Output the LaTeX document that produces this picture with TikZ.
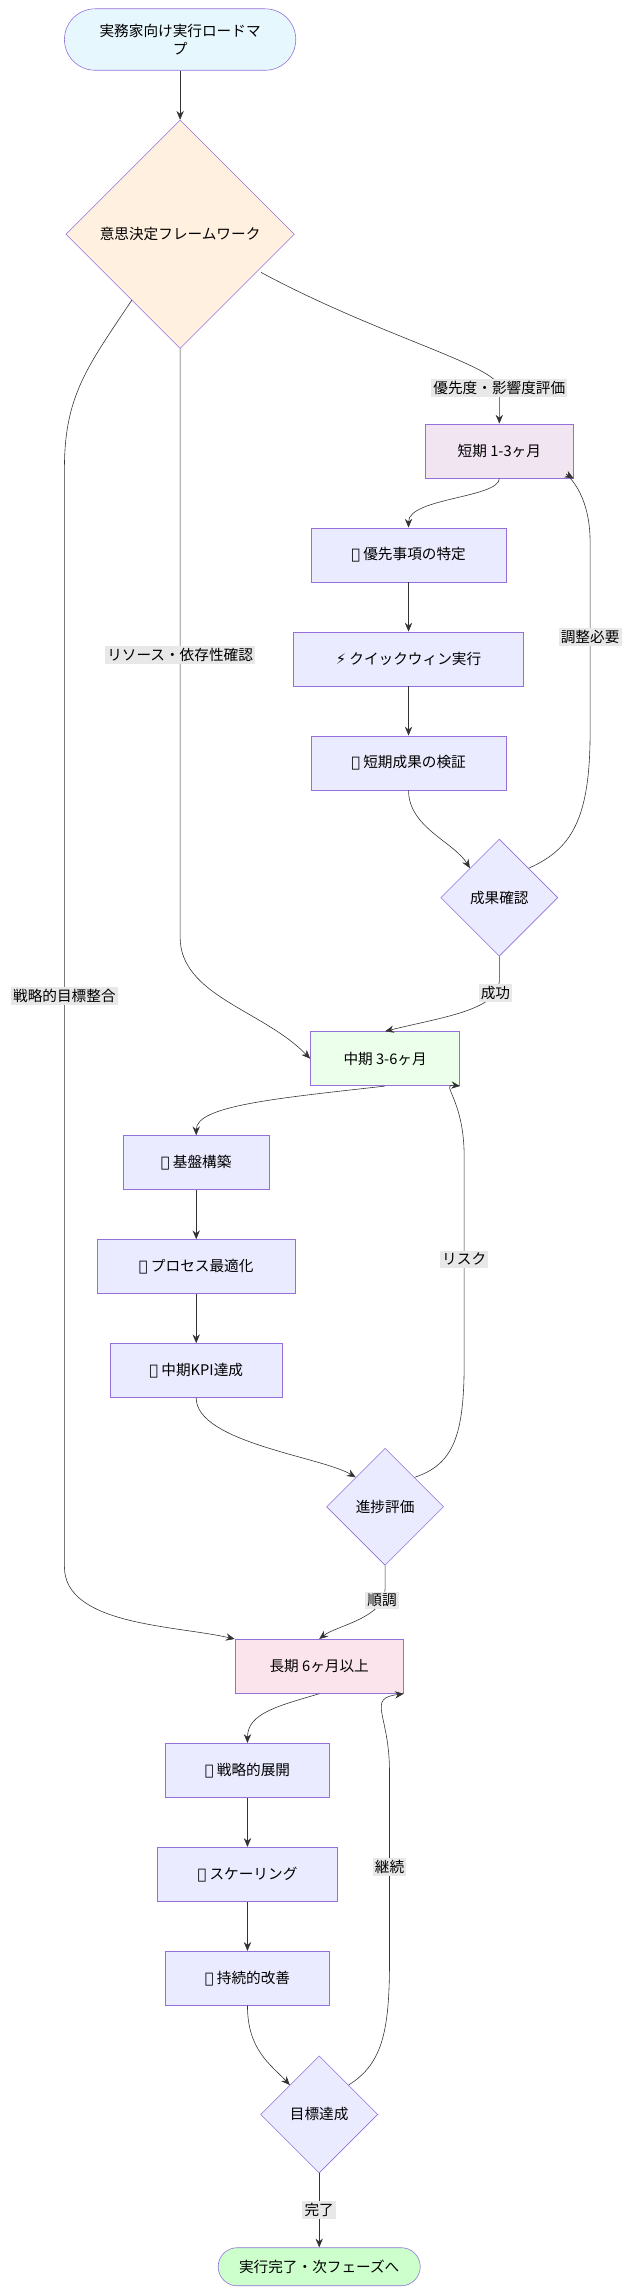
\documentclass[tikz,border=0pt]{standalone}
\usepackage{fontspec}
\setmainfont{Noto Sans CJK JP}
\newfontfamily\emo{DejaVu Sans}
\usetikzlibrary{shapes.geometric,arrows.meta}
\definecolor{edgebg}{HTML}{E8E8E8}
\definecolor{nodeline}{HTML}{9370DB}
\definecolor{longfill}{HTML}{FCE4EC}
\tikzset{
  box/.style={draw=nodeline,fill=#1,minimum height=37pt,inner sep=0pt,font=\fontsize{10}{12}\selectfont},
  dec/.style={draw=nodeline,fill=#1,diamond,inner sep=0pt,font=\fontsize{10}{12}\selectfont},
  lbl/.style={fill=edgebg,inner sep=1.5pt,font=\fontsize{10}{12}\selectfont},
  flow/.style={draw=black!80,-{Stealth[length=6pt,width=5pt]}}
}
\begin{document}
\begin{tikzpicture}[x=1pt,y=-1pt]
    \useasboundingbox (0,0) rectangle (432,1568);
    % start and framework
    \node[box=cyan!10,rounded corners=21pt,minimum width=158pt,minimum height=42pt,align=center] (start) at (123,27) {実務家向け実行ロードマ\\プ};
    \node[dec=orange!12,minimum width=156pt,minimum height=156pt] (frame) at (123,160) {意思決定フレームワーク};

    % short term
    \node[box=violet!10,minimum width=101pt] (short) at (341,308) {短期 1-3ヶ月};
    \node[box=blue!8,minimum width=133pt] (prio) at (279,379) {{\emo 📋} 優先事項の特定};
    \node[box=blue!8,minimum width=157pt] (quick) at (279,450) {{\emo ⚡} クイックウィン実行};
    \node[box=blue!8,minimum width=133pt] (verify) at (279,521) {{\emo ✅} 短期成果の検証};
    \node[dec=blue!8,minimum width=80pt,minimum height=80pt] (check) at (341,613) {成果確認};

    % mid term
    \node[box=green!8,minimum width=102pt] (mid) at (263,723) {中期 3-6ヶ月};
    \node[box=blue!8,minimum width=100pt] (base) at (134,794) {{\emo 🔧} 基盤構築};
    \node[box=blue!8,minimum width=135pt] (proc) at (134,865) {{\emo 🔄} プロセス最適化};
    \node[box=blue!8,minimum width=118pt] (kpi) at (134,936) {{\emo 📊} 中期KPI達成};
    \node[dec=blue!8,minimum width=80pt,minimum height=80pt] (progress) at (263,1029) {進捗評価};

    % long term
    \node[box=longfill,minimum width=115pt] (long) at (218,1138) {長期 6ヶ月以上};
    \node[box=blue!8,minimum width=112pt] (deploy) at (169,1209) {{\emo 🎯} 戦略的展開};
    \node[box=blue!8,minimum width=123pt] (scale) at (169,1280) {{\emo 🚀} スケーリング};
    \node[box=blue!8,minimum width=112pt] (improve) at (169,1351) {{\emo 🌟} 持続的改善};
    \node[dec=blue!8,minimum width=80pt,minimum height=80pt] (goal) at (218,1444) {目標達成};
    \node[box=green!20,rounded corners=13pt,minimum width=138pt,minimum height=26pt] (done) at (218,1548) {実行完了・次フェーズへ};

    \draw[flow] (frame.east) ++(-23,26) .. controls (260,230) and (341,250) .. (341,265) -- node[lbl,pos=0] {優先度・影響度評価} (short.north);
    \draw[flow] (start) -- (frame);
    \draw[flow] (frame.south) -- node[lbl,pos=0.52] {リソース・依存性確認} (123,640) .. controls (123,680) and (180,690) .. (mid.west);
    \draw[flow] (90,205) .. controls (60,250) and (44,270) .. (44,320) -- node[lbl,pos=0.48] {戦略的目標整合} (44,1070) .. controls (44,1110) and (120,1110) .. (long.north west);

    \draw[flow] (short.south) .. controls (341,340) and (279,340) .. (prio.north);
    \draw[flow] (prio) -- (quick);
    \draw[flow] (quick) -- (verify);
    \draw[flow] (verify.south) .. controls (279,565) and (310,575) .. (check.north west);
    \draw[flow] (check.north east) .. controls (390,580) and (403,560) .. (403,500) -- node[lbl] {調整必要} (403,370) .. controls (403,330) and (380,320) .. (short.south east);
    \draw[flow] (check.south) -- (341,670) .. controls (341,690) and (300,695) .. node[lbl,pos=0.15] {成功} (mid.north);

    \draw[flow] (mid.south) .. controls (190,750) and (134,755) .. (base.north);
    \draw[flow] (base) -- (proc);
    \draw[flow] (proc) -- (kpi);
    \draw[flow] (kpi.south) .. controls (134,985) and (220,995) .. (progress.north west);
    \draw[flow] (progress.north east) .. controls (310,1000) and (317,980) .. (317,930) -- node[lbl] {リスク} (317,790) .. controls (317,750) and (300,740) .. (mid.south east);
    \draw[flow] (progress.south) -- (263,1085) .. controls (263,1105) and (230,1110) .. node[lbl,pos=0.15] {順調} (long.north);

    \draw[flow] (long.south) .. controls (190,1165) and (169,1170) .. (deploy.north);
    \draw[flow] (deploy) -- (scale);
    \draw[flow] (scale) -- (improve);
    \draw[flow] (improve.south) .. controls (169,1400) and (185,1410) .. (goal.north west);
    \draw[flow] (goal.north east) .. controls (260,1410) and (266,1390) .. (266,1340) -- node[lbl] {継続} (266,1210) .. controls (266,1170) and (250,1160) .. (long.south east);
    \draw[flow] (goal) -- node[lbl] {完了} (done);
\end{tikzpicture}
\end{document}
